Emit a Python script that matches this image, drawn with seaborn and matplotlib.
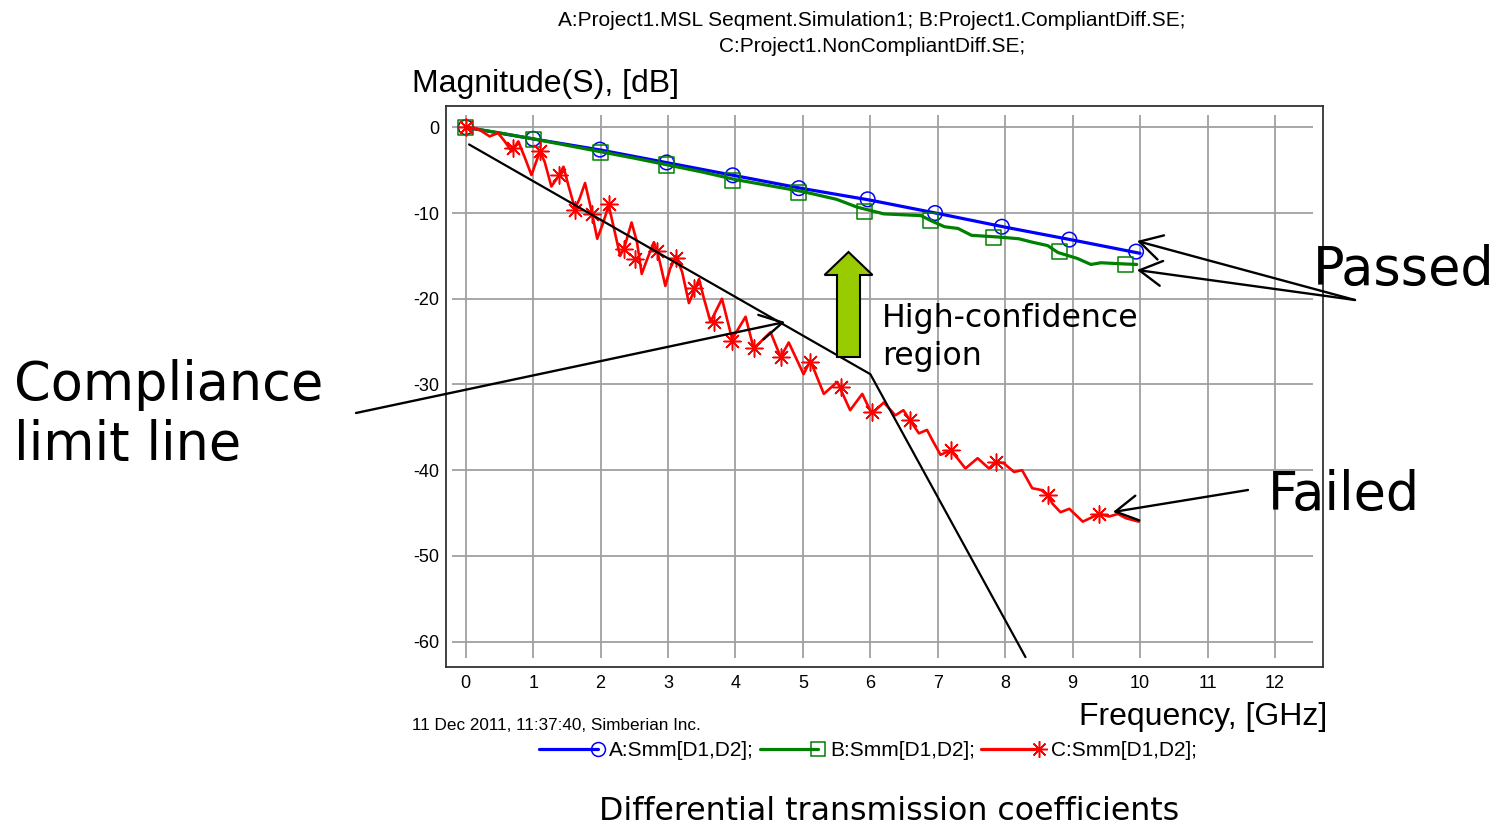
import numpy as np
import pandas as pd
import matplotlib
matplotlib.use("Agg")
import matplotlib.pyplot as plt
import seaborn as sns
import matplotlib.transforms as mtransforms
from matplotlib.lines import Line2D
from matplotlib.legend_handler import HandlerLine2D
from matplotlib.patches import FancyArrow, FancyArrowPatch

# ---------------- data ----------------
blue_f = [0, 1, 2, 3, 4, 5, 6, 7, 8, 9, 10]
blue_db = [0, -1.35, -2.65, -4.15, -5.65, -7.15, -8.5, -10.05, -11.65, -13.15, -14.7]
blue_mk_f = [0, 1.0, 1.99, 2.98, 3.96, 4.94, 5.96, 6.96, 7.95, 8.95, 9.94]
blue_mk_db = [0, -1.35, -2.6, -4.1, -5.6, -7.1, -8.4, -10.0, -11.6, -13.1, -14.5]

green_f = [0, 0.5, 1, 1.5, 2, 2.5, 3, 3.5, 4, 4.5, 5, 5.5, 5.8, 6.2, 6.75, 6.9,
           7.1, 7.3, 7.5, 7.7, 7.9, 8.2, 8.4, 8.63, 8.78, 9.07, 9.27, 9.42, 9.66, 9.95]
green_db = [0, -0.65, -1.35, -2.1, -2.85, -3.6, -4.4, -5.2, -6.1, -6.8, -7.5, -8.4,
            -9.3, -10.1, -10.3, -10.9, -11.6, -11.8, -12.6, -12.7, -12.8, -13.0,
            -13.4, -13.8, -14.6, -15.3, -16.0, -15.8, -15.9, -16.0]
green_mk_f = [0, 1.0, 2.0, 2.98, 3.96, 4.93, 5.91, 6.89, 7.83, 8.8, 9.78]
green_mk_db = [0, -1.4, -2.9, -4.4, -6.2, -7.6, -9.8, -10.9, -12.9, -14.5, -16.0]

red_f = [0, 0.2, 0.355, 0.48, 0.58, 0.68, 0.78, 0.88, 0.975, 1.1, 1.17, 1.27, 1.35,
         1.45, 1.52, 1.62, 1.69, 1.77, 1.87, 1.95, 2.04, 2.12, 2.19, 2.29, 2.36, 2.46,
         2.54, 2.61, 2.69, 2.79, 2.84, 2.96, 3.03, 3.12, 3.21, 3.31, 3.46, 3.53, 3.63,
         3.8, 3.95, 4.15, 4.27, 4.52, 4.67, 4.79, 5.01, 5.11, 5.31, 5.51, 5.7, 5.88,
         6.02, 6.2, 6.37, 6.49, 6.59, 6.72, 6.84, 6.92, 7.04, 7.19, 7.29, 7.41, 7.59,
         7.76, 7.86, 7.98, 8.13, 8.25, 8.4, 8.53, 8.63, 8.7, 8.82, 8.95, 9.15, 9.39,
         9.54, 9.67, 9.79, 9.98]
red_db = [0, -0.27, -1.06, -0.67, -1.65, -2.8, -1.65, -3.6, -5.57, -2.8, -4.0, -6.9,
          -6.0, -4.6, -6.7, -9.5, -8.3, -6.5, -9.9, -13.0, -11.1, -9.1, -11.5, -15.0,
          -13.8, -11.1, -13.4, -17.1, -15.4, -13.4, -14.4, -18.5, -16.5, -15.0, -16.9,
          -20.5, -17.7, -19.9, -22.7, -20.0, -24.7, -22.1, -25.8, -23.9, -26.8, -25.1,
          -28.8, -27.2, -31.1, -29.7, -33.0, -31.1, -33.4, -32.1, -33.6, -33.0, -34.2,
          -35.7, -35.3, -36.5, -38.2, -37.7, -38.6, -39.8, -38.6, -39.8, -39.0, -39.2,
          -40.2, -40.0, -42.1, -42.3, -42.9, -43.9, -44.9, -44.5, -46.0, -45.1, -45.4,
          -45.1, -45.6, -46.0]
red_mk_f = [0, 0.7, 1.1, 1.38, 1.62, 1.87, 2.12, 2.34, 2.51, 2.84, 3.12, 3.38, 3.68,
            3.95, 4.27, 4.67, 5.11, 5.56, 6.02, 6.59, 7.19, 7.86, 8.63, 9.39]
red_mk_db = [0, -2.4, -2.8, -5.6, -9.7, -10.1, -9.0, -14.2, -15.4, -14.4, -15.2,
             -18.7, -22.7, -24.9, -25.7, -26.8, -27.4, -30.3, -33.2, -34.2, -37.7,
             -39.0, -42.9, -45.1]

limit_f = [0.05, 6.0, 8.3]
limit_db = [-2.0, -28.8, -61.8]

x_ticks = [0, 1, 2, 3, 4, 5, 6, 7, 8, 9, 10, 11, 12]
y_ticks = [0, -10, -20, -30, -40, -50, -60]

legend_labels = ["A:Smm[D1,D2];", "B:Smm[D1,D2];", "C:Smm[D1,D2];"]
title_line1 = "A:Project1.MSL Seqment.Simulation1; B:Project1.CompliantDiff.SE;"
title_line2 = "C:Project1.NonCompliantDiff.SE;"

# ---------------- style ----------------
sns.set_style("white")
plt.rcParams["font.family"] = ["Liberation Sans", "DejaVu Sans"]
plt.rcParams["text.color"] = "black"

W, H = 1496, 827
fig = plt.figure(figsize=(W / 100, H / 100), dpi=100)
ax = fig.add_axes([446 / W, 1 - 666.7 / H, 877.3 / W, 561 / H])

# pixel transform (origin top-left) for annotations
px = mtransforms.Affine2D().scale(1, -1).translate(0, H).scale(1 / W, 1 / H) + fig.transFigure

BLUE, GREEN, RED = "#0000FF", "#008000", "#FF0000"

# grid (limited extent like the original)
ax.vlines(x_ticks, -61.9, 1.43, color="#a0a0a0", lw=1.3, zorder=1)
ax.hlines(y_ticks, -0.2, 12.56, color="#a0a0a0", lw=1.3, zorder=1)

df_b = pd.DataFrame({"f": blue_f, "db": blue_db})
df_g = pd.DataFrame({"f": green_f, "db": green_db})
df_r = pd.DataFrame({"f": red_f, "db": red_db})
df_l = pd.DataFrame({"f": limit_f, "db": limit_db})

sns.lineplot(data=df_b, x="f", y="db", ax=ax, color=BLUE, lw=2.3, sort=False,
             estimator=None, zorder=3)
sns.scatterplot(x=blue_mk_f, y=blue_mk_db, ax=ax, marker="o", s=110,
                facecolors="none", edgecolors=BLUE, linewidths=1.1, zorder=3.05)
sns.lineplot(data=df_g, x="f", y="db", ax=ax, color=GREEN, lw=2.3, sort=False,
             estimator=None, zorder=3.1)
sns.scatterplot(x=green_mk_f, y=green_mk_db, ax=ax, marker="s", s=120,
                facecolors="none", edgecolors=GREEN, linewidths=1.1, zorder=3.15)
sns.lineplot(data=df_r, x="f", y="db", ax=ax, color=RED, lw=1.9, sort=False,
             estimator=None, zorder=3.2)
sns.scatterplot(x=red_mk_f, y=red_mk_db, ax=ax, marker=(8, 2, 0), s=150,
                color=RED, edgecolors=RED, linewidths=1.1, zorder=3.25)
sns.lineplot(data=df_l, x="f", y="db", ax=ax, color="black", lw=1.6, sort=False,
             estimator=None, zorder=3.5)

ax.set_xlim(-0.292, 12.716)
ax.set_ylim(-62.92, 2.52)
ax.set_xticks(x_ticks)
ax.set_yticks(y_ticks)
ax.set_xticklabels([str(t) for t in x_ticks])
ax.set_yticklabels([str(t) for t in y_ticks])
ax.tick_params(axis="both", direction="inout", length=6, width=1.0, colors="#222222",
               labelsize=13, labelcolor="black")
ax.tick_params(axis="x", pad=3)
ax.tick_params(axis="y", pad=2)
ax.set_xlabel("")
ax.set_ylabel("")
for side in ["left", "right", "top", "bottom"]:
    ax.spines[side].set_color("#333333")
    ax.spines[side].set_linewidth(1.3)
    ax.spines[side].set_visible(True)
if ax.get_legend():
    ax.get_legend().remove()

# ---------------- chart texts ----------------
fig.text(872, 21, title_line1, transform=px, ha="center", va="center", fontsize=15)
fig.text(872, 46, title_line2, transform=px, ha="center", va="center", fontsize=15)
fig.text(412, 84, "Magnitude(S), [dB]", transform=px, ha="left", va="center", fontsize=23)
fig.text(1327, 717, "Frequency, [GHz]", transform=px, ha="right", va="center", fontsize=23)
fig.text(412, 726, "11 Dec 2011, 11:37:40, Simberian Inc.", transform=px, ha="left", va="center",
         fontsize=12.3)


class EndMarkerHandler(HandlerLine2D):
    def create_artists(self, legend, orig_handle, xdescent, ydescent, width, height, fontsize, trans):
        arts = super().create_artists(legend, orig_handle, xdescent, ydescent, width, height,
                                      fontsize, trans)
        for a in arts:
            if isinstance(a, Line2D) and len(a.get_xdata()) == 3:
                a.set_markevery([2])
        return arts


handles = [
    Line2D([], [], color=BLUE, lw=2.3, marker="o", mfc="none", mec=BLUE, ms=10, mew=1.1),
    Line2D([], [], color=GREEN, lw=2.3, marker="s", mfc="none", mec=GREEN, ms=10, mew=1.1),
    Line2D([], [], color=RED, lw=2.3, marker=(8, 2, 0), mfc=RED, mec=RED, ms=12, mew=1.1),
]
leg = fig.legend(handles, legend_labels, loc="center", bbox_to_anchor=(868 / W, 1 - 751 / H),
                 ncol=3, frameon=False, fontsize=15, handlelength=2.8, handletextpad=0.55,
                 columnspacing=0.3, numpoints=1, borderaxespad=0,
                 handler_map={Line2D: EndMarkerHandler(numpoints=1)})

# ---------------- slide annotations ----------------
ann_font = ["DejaVu Sans"]
fig.text(14, 385, "Compliance", transform=px, ha="left", va="center", fontsize=37.8, family=ann_font)
fig.text(14, 445, "limit line", transform=px, ha="left", va="center", fontsize=37.8, family=ann_font)
fig.text(1313, 270, "Passed", transform=px, ha="left", va="center", fontsize=37.8, family=ann_font)
fig.text(1268, 495, "Failed", transform=px, ha="left", va="center", fontsize=37.8, family=ann_font)
fig.text(882, 318, "High-confidence", transform=px, ha="left", va="center", fontsize=22.7, family=ann_font)
fig.text(882, 356, "region", transform=px, ha="left", va="center", fontsize=22.7, family=ann_font)
fig.text(889, 812, "Differential transmission coefficients", transform=px, ha="center", va="center",
         fontsize=22.8, family=ann_font)


def arrow(p0, p1):
    a = FancyArrowPatch(p0, p1, transform=px, arrowstyle="->,head_length=0.8,head_width=0.45",
                        mutation_scale=20, lw=1.7, color="black", shrinkA=0, shrinkB=0, zorder=10)
    fig.add_artist(a)


arrow((356, 413), (785, 322))
arrow((1355, 300), (1137, 241))
arrow((1355, 300), (1137, 270))
arrow((1248, 490), (1113, 512))

green_arrow = FancyArrow(848.5, 357, 0, -105, width=23, head_width=48, head_length=23,
                         length_includes_head=True, fc="#99CC00", ec="black", lw=1.5,
                         transform=px, zorder=10)
fig.add_artist(green_arrow)

fig.savefig("out.png", dpi=100)
